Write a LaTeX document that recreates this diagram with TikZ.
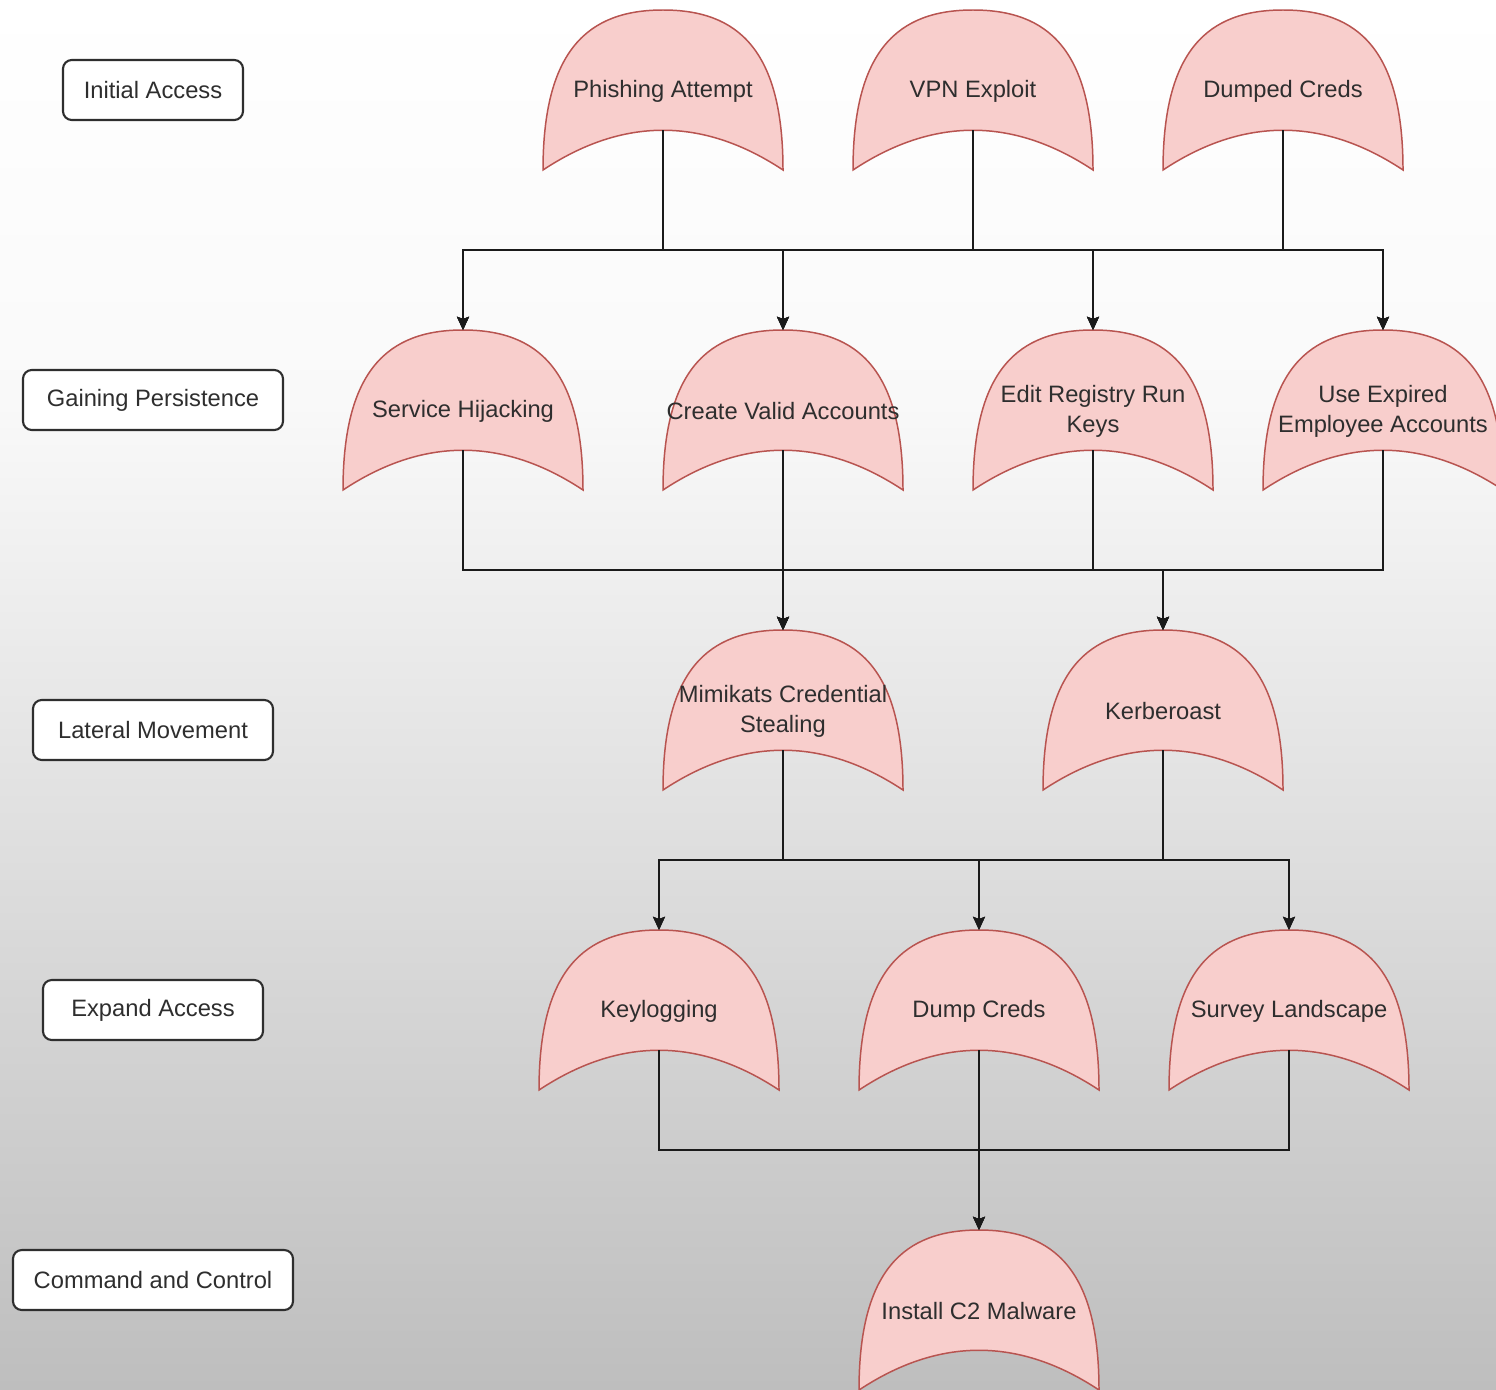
\documentclass[tikz,border=0pt]{standalone}
\usepackage{fontspec}
\setmainfont{Liberation Sans}
\usetikzlibrary{arrows.meta}

\definecolor{domefill}{HTML}{F8CECC}
\definecolor{domeline}{HTML}{B85450}
\definecolor{ink}{HTML}{2E2E2E}
\definecolor{wire}{HTML}{1A1A1A}
\definecolor{bgtop}{HTML}{FFFFFF}
\definecolor{bgmid}{HTML}{F9F9F9}
\definecolor{bgbot}{HTML}{BEBEBE}

% background: white at the top, grey towards the bottom
% (TikZ maps a path onto the 25bp..75bp band of a shading)
\pgfdeclareverticalshading{pagebg}{100bp}{%
  color(0bp)=(bgbot); color(25bp)=(bgbot); color(60.5bp)=(bgmid);
  color(75bp)=(bgtop); color(100bp)=(bgtop)}

\tikzset{
  txt/.style={text=ink, font=\fontsize{13.5}{17}\selectfont, align=center, inner sep=0pt},
  phase/.style={txt, draw=ink, line width=1.2pt, fill=white, rounded corners=5pt,
                minimum height=60*0.02cm},
  domeshape/.style={fill=domefill, draw=domeline, line width=0.85pt},
  conn/.style={draw=wire, line width=1.1pt,
               -{Stealth[length=7.5pt, width=6.8pt, inset=1.2pt]}},
  dome/.pic={
    \path[domeshape] (-120,80) .. controls (-120,-40) and (-75,-80) .. (0,-80)
      .. controls (75,-80) and (120,-40) .. (120,80)
      .. controls (40,27) and (-40,27) .. (-120,80) -- cycle;
    \coordinate (-top) at (0,-80);
    \coordinate (-bot) at (0,40);
  }
}

% one attack step: shape, its coordinates and its label node
\newcommand{\attackstep}[4]{%
  \pic (#1) at (#2,#3) {dome};
  \node[txt] (#1) at (#2,#3+1) {#4};
}

\begin{document}
\begin{tikzpicture}[x=0.02cm, y=-0.02cm]
\useasboundingbox (0,0) rectangle (1496,1389);
\clip (0,0) rectangle (1496,1389);
\fill[shading=pagebg] (0,0) rectangle (1496,1389);

% phase labels
\node[phase, minimum width=180*0.02cm] (pIA) at (153,90)   {Initial Access};
\node[phase, minimum width=260*0.02cm] (pGP) at (153,400)  {Gaining Persistence};
\node[phase, minimum width=240*0.02cm] (pLM) at (153,730)  {Lateral Movement};
\node[phase, minimum width=220*0.02cm] (pEA) at (153,1010) {Expand Access};
\node[phase, minimum width=280*0.02cm] (pCC) at (153,1280) {Command and Control};

% initial access
\attackstep{phish}{663}{90}{Phishing Attempt}
\attackstep{vpn}{973}{90}{VPN Exploit}
\attackstep{dumped}{1283}{90}{Dumped Creds}

% gaining persistence
\attackstep{svc}{463}{410}{Service Hijacking}
\attackstep{valid}{783}{410}{Create Valid Accounts}
\attackstep{reg}{1093}{410}{Edit Registry Run\\Keys}
\attackstep{expired}{1383}{410}{Use Expired\\Employee Accounts}

% lateral movement
\attackstep{mimi}{783}{710}{Mimikats Credential\\Stealing}
\attackstep{kerb}{1163}{710}{Kerberoast}

% expand access
\attackstep{keylog}{659}{1010}{Keylogging}
\attackstep{dump}{979}{1010}{Dump Creds}
\attackstep{survey}{1289}{1010}{Survey Landscape}

% command and control
\attackstep{c2}{979}{1310}{Install C2 Malware}

% connectors
\foreach \a in {phish,vpn,dumped}
  \foreach \b in {svc,valid,reg,expired}
    \draw[conn] (\a-bot) -- ++(0,120) -| (\b-top);
\foreach \a in {svc,valid,reg,expired}
  \foreach \b in {mimi,kerb}
    \draw[conn] (\a-bot) -- ++(0,120) -| (\b-top);
\foreach \a in {mimi,kerb}
  \foreach \b in {keylog,dump,survey}
    \draw[conn] (\a-bot) -- ++(0,110) -| (\b-top);
\foreach \a in {keylog,dump,survey}
  \draw[conn] (\a-bot) -- ++(0,100) -| (c2-top);
\end{tikzpicture}
\end{document}
